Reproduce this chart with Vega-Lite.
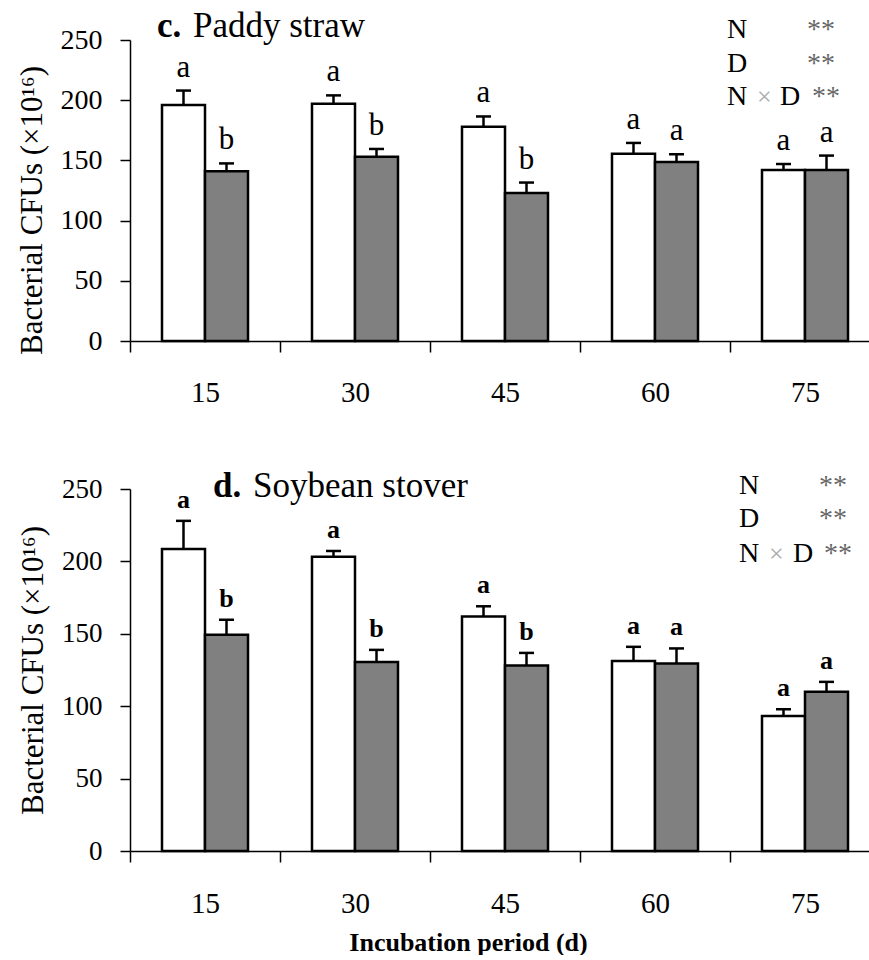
{
  "$schema": "https://vega.github.io/schema/vega-lite/v6.json",
  "background": "white",
  "padding": {"left": 16, "top": 8, "right": 0, "bottom": 0},
  "spacing": 62,
  "config": {
    "view": {"stroke": null},
    "font": "Liberation Serif",
    "axis": {"grid": false, "domainColor": "black", "tickColor": "black", "labelColor": "black", "titleColor": "black", "labelFont": "Liberation Serif", "titleFont": "Liberation Serif", "domainWidth": 1.5, "tickWidth": 1.5},
    "text": {"font": "Liberation Serif", "color": "black"}
  },
  "datasets": {
    "paddy": [
      {"day": 15, "trt": "A", "mean": 196, "se": 12, "sig": "a"},
      {"day": 15, "trt": "B", "mean": 141, "se": 6.5, "sig": "b"},
      {"day": 30, "trt": "A", "mean": 197, "se": 7, "sig": "a"},
      {"day": 30, "trt": "B", "mean": 153, "se": 6.5, "sig": "b"},
      {"day": 45, "trt": "A", "mean": 178, "se": 8.5, "sig": "a"},
      {"day": 45, "trt": "B", "mean": 123, "se": 8.6, "sig": "b"},
      {"day": 60, "trt": "A", "mean": 155.5, "se": 9, "sig": "a"},
      {"day": 60, "trt": "B", "mean": 148.7, "se": 6.4, "sig": "a"},
      {"day": 75, "trt": "A", "mean": 142, "se": 5, "sig": "a"},
      {"day": 75, "trt": "B", "mean": 142, "se": 12, "sig": "a"}
    ],
    "soy": [
      {"day": 15, "trt": "A", "mean": 208.5, "se": 19.5, "sig": "a"},
      {"day": 15, "trt": "B", "mean": 149.3, "se": 10.4, "sig": "b"},
      {"day": 30, "trt": "A", "mean": 203.2, "se": 4, "sig": "a"},
      {"day": 30, "trt": "B", "mean": 130.6, "se": 8.3, "sig": "b"},
      {"day": 45, "trt": "A", "mean": 162, "se": 7, "sig": "a"},
      {"day": 45, "trt": "B", "mean": 128.1, "se": 8.7, "sig": "b"},
      {"day": 60, "trt": "A", "mean": 131.3, "se": 9.7, "sig": "a"},
      {"day": 60, "trt": "B", "mean": 129.5, "se": 10.4, "sig": "a"},
      {"day": 75, "trt": "A", "mean": 93.3, "se": 4.6, "sig": "a"},
      {"day": 75, "trt": "B", "mean": 109.9, "se": 6.9, "sig": "a"}
    ]
  },
  "vconcat": [
    {
      "width": 750,
      "height": 301,
      "layer": [
        {
          "data": {"name": "paddy"},
          "transform": [{"calculate": "datum.mean + datum.se", "as": "hi"}],
          "encoding": {
            "x": {"field": "day", "type": "ordinal", "scale": {"paddingInner": 0, "paddingOuter": 0}, "axis": {"title": null, "labelAngle": 0, "tickBand": "extent", "tickSize": 11, "labelPadding": 26, "labelFontSize": 29, "labelBaseline": "top"}},
            "xOffset": {"field": "trt", "type": "nominal", "scale": {"paddingInner": 0, "paddingOuter": 0.744}}
          },
          "layer": [
            {
              "mark": {"type": "bar", "stroke": "black", "strokeWidth": 2.5},
              "encoding": {
                "y": {"field": "mean", "type": "quantitative", "scale": {"domain": [0, 250], "nice": false}, "axis": {"values": [0, 50, 100, 150, 200, 250], "title": "Bacterial CFUs (×10¹⁶)", "titleFontSize": 31, "titleFontWeight": "normal", "labelFontSize": 28, "tickSize": 10, "labelPadding": 18, "titlePadding": 12, "titleY": 170}},
                "fill": {"field": "trt", "type": "nominal", "scale": {"domain": ["A", "B"], "range": ["white", "#808080"]}, "legend": null}
              }
            },
            {
              "mark": {"type": "rule", "color": "black", "strokeWidth": 2.5},
              "encoding": {"y": {"field": "mean", "type": "quantitative"}, "y2": {"field": "hi"}}
            },
            {
              "mark": {"type": "tick", "color": "black", "thickness": 2.5, "size": 15, "opacity": 1},
              "encoding": {"y": {"field": "hi", "type": "quantitative"}}
            },
            {
              "mark": {"type": "text", "fontSize": 31, "baseline": "alphabetic", "dy": -14},
              "encoding": {"y": {"field": "hi", "type": "quantitative"}, "text": {"field": "sig"}}
            }
          ]
        },
        {"data": {"values": [{}]}, "mark": {"type": "text", "text": "c.", "fontSize": 35, "fontWeight": "bold", "align": "left", "baseline": "alphabetic", "dx": -48}, "encoding": {"x": {"datum": 15, "type": "ordinal"}, "y": {"datum": 252.5, "type": "quantitative"}}},
        {"data": {"values": [{}]}, "mark": {"type": "text", "text": "Paddy straw", "fontSize": 35, "align": "left", "baseline": "alphabetic", "dx": -12}, "encoding": {"x": {"datum": 15, "type": "ordinal"}, "y": {"datum": 252.5, "type": "quantitative"}}},
        {"data": {"values": [{}]}, "mark": {"type": "text", "text": "N", "fontSize": 28, "align": "left", "baseline": "alphabetic", "dx": -78}, "encoding": {"x": {"datum": 75, "type": "ordinal"}, "y": {"datum": 251.7, "type": "quantitative"}}},
        {"data": {"values": [{}]}, "mark": {"type": "text", "text": "**", "fontSize": 28, "color": "#666666", "align": "left", "baseline": "alphabetic", "dx": 2}, "encoding": {"x": {"datum": 75, "type": "ordinal"}, "y": {"datum": 251.7, "type": "quantitative"}}},
        {"data": {"values": [{}]}, "mark": {"type": "text", "text": "D", "fontSize": 28, "align": "left", "baseline": "alphabetic", "dx": -78}, "encoding": {"x": {"datum": 75, "type": "ordinal"}, "y": {"datum": 223.4, "type": "quantitative"}}},
        {"data": {"values": [{}]}, "mark": {"type": "text", "text": "**", "fontSize": 28, "color": "#666666", "align": "left", "baseline": "alphabetic", "dx": 2}, "encoding": {"x": {"datum": 75, "type": "ordinal"}, "y": {"datum": 223.4, "type": "quantitative"}}},
        {"data": {"values": [{}]}, "mark": {"type": "text", "text": "N", "fontSize": 28, "align": "left", "baseline": "alphabetic", "dx": -78}, "encoding": {"x": {"datum": 75, "type": "ordinal"}, "y": {"datum": 196, "type": "quantitative"}}},
        {"data": {"values": [{}]}, "mark": {"type": "text", "text": "×", "fontSize": 26, "color": "#aaaaaa", "align": "left", "baseline": "alphabetic", "dx": -48}, "encoding": {"x": {"datum": 75, "type": "ordinal"}, "y": {"datum": 196, "type": "quantitative"}}},
        {"data": {"values": [{}]}, "mark": {"type": "text", "text": "D", "fontSize": 28, "align": "left", "baseline": "alphabetic", "dx": -25}, "encoding": {"x": {"datum": 75, "type": "ordinal"}, "y": {"datum": 196, "type": "quantitative"}}},
        {"data": {"values": [{}]}, "mark": {"type": "text", "text": "**", "fontSize": 28, "color": "#666666", "align": "left", "baseline": "alphabetic", "dx": 7}, "encoding": {"x": {"datum": 75, "type": "ordinal"}, "y": {"datum": 196, "type": "quantitative"}}}
      ]
    },
    {
      "width": 750,
      "height": 362,
      "layer": [
        {
          "data": {"name": "soy"},
          "transform": [{"calculate": "datum.mean + datum.se", "as": "hi"}],
          "encoding": {
            "x": {"field": "day", "type": "ordinal", "scale": {"paddingInner": 0, "paddingOuter": 0}, "axis": {"title": "Incubation period (d)", "titleFontSize": 26, "titleFontWeight": "bold", "titleX": 338, "titlePadding": 11, "labelAngle": 0, "tickBand": "extent", "tickSize": 11, "labelPadding": 27, "labelFontSize": 29, "labelBaseline": "top"}},
            "xOffset": {"field": "trt", "type": "nominal", "scale": {"paddingInner": 0, "paddingOuter": 0.744}}
          },
          "layer": [
            {
              "mark": {"type": "bar", "stroke": "black", "strokeWidth": 2.5},
              "encoding": {
                "y": {"field": "mean", "type": "quantitative", "scale": {"domain": [0, 250], "nice": false}, "axis": {"values": [0, 50, 100, 150, 200, 250], "title": "Bacterial CFUs (×10¹⁶)", "titleFontSize": 31, "titleFontWeight": "normal", "labelFontSize": 27, "tickSize": 10, "labelPadding": 18, "titlePadding": 12}},
                "fill": {"field": "trt", "type": "nominal", "scale": {"domain": ["A", "B"], "range": ["white", "#808080"]}, "legend": null}
              }
            },
            {
              "mark": {"type": "rule", "color": "black", "strokeWidth": 2.5},
              "encoding": {"y": {"field": "mean", "type": "quantitative"}, "y2": {"field": "hi"}}
            },
            {
              "mark": {"type": "tick", "color": "black", "thickness": 2.5, "size": 15, "opacity": 1},
              "encoding": {"y": {"field": "hi", "type": "quantitative"}}
            },
            {
              "mark": {"type": "text", "fontSize": 26, "fontWeight": "bold", "baseline": "alphabetic", "dy": -13},
              "encoding": {"y": {"field": "hi", "type": "quantitative"}, "text": {"field": "sig"}}
            }
          ]
        },
        {"data": {"values": [{}]}, "mark": {"type": "text", "text": "d.", "fontSize": 35, "fontWeight": "bold", "align": "left", "baseline": "alphabetic", "dx": 8}, "encoding": {"x": {"datum": 15, "type": "ordinal"}, "y": {"datum": 244.4, "type": "quantitative"}}},
        {"data": {"values": [{}]}, "mark": {"type": "text", "text": "Soybean stover", "fontSize": 35, "align": "left", "baseline": "alphabetic", "dx": 48}, "encoding": {"x": {"datum": 15, "type": "ordinal"}, "y": {"datum": 244.4, "type": "quantitative"}}},
        {"data": {"values": [{}]}, "mark": {"type": "text", "text": "N", "fontSize": 28, "align": "left", "baseline": "alphabetic", "dx": -66}, "encoding": {"x": {"datum": 75, "type": "ordinal"}, "y": {"datum": 246.5, "type": "quantitative"}}},
        {"data": {"values": [{}]}, "mark": {"type": "text", "text": "**", "fontSize": 28, "color": "#666666", "align": "left", "baseline": "alphabetic", "dx": 14}, "encoding": {"x": {"datum": 75, "type": "ordinal"}, "y": {"datum": 246.5, "type": "quantitative"}}},
        {"data": {"values": [{}]}, "mark": {"type": "text", "text": "D", "fontSize": 28, "align": "left", "baseline": "alphabetic", "dx": -66}, "encoding": {"x": {"datum": 75, "type": "ordinal"}, "y": {"datum": 223.7, "type": "quantitative"}}},
        {"data": {"values": [{}]}, "mark": {"type": "text", "text": "**", "fontSize": 28, "color": "#666666", "align": "left", "baseline": "alphabetic", "dx": 14}, "encoding": {"x": {"datum": 75, "type": "ordinal"}, "y": {"datum": 223.7, "type": "quantitative"}}},
        {"data": {"values": [{}]}, "mark": {"type": "text", "text": "N", "fontSize": 28, "align": "left", "baseline": "alphabetic", "dx": -66}, "encoding": {"x": {"datum": 75, "type": "ordinal"}, "y": {"datum": 199.5, "type": "quantitative"}}},
        {"data": {"values": [{}]}, "mark": {"type": "text", "text": "×", "fontSize": 26, "color": "#aaaaaa", "align": "left", "baseline": "alphabetic", "dx": -36}, "encoding": {"x": {"datum": 75, "type": "ordinal"}, "y": {"datum": 199.5, "type": "quantitative"}}},
        {"data": {"values": [{}]}, "mark": {"type": "text", "text": "D", "fontSize": 28, "align": "left", "baseline": "alphabetic", "dx": -12}, "encoding": {"x": {"datum": 75, "type": "ordinal"}, "y": {"datum": 199.5, "type": "quantitative"}}},
        {"data": {"values": [{}]}, "mark": {"type": "text", "text": "**", "fontSize": 28, "color": "#666666", "align": "left", "baseline": "alphabetic", "dx": 19}, "encoding": {"x": {"datum": 75, "type": "ordinal"}, "y": {"datum": 199.5, "type": "quantitative"}}}
      ]
    }
  ]
}
